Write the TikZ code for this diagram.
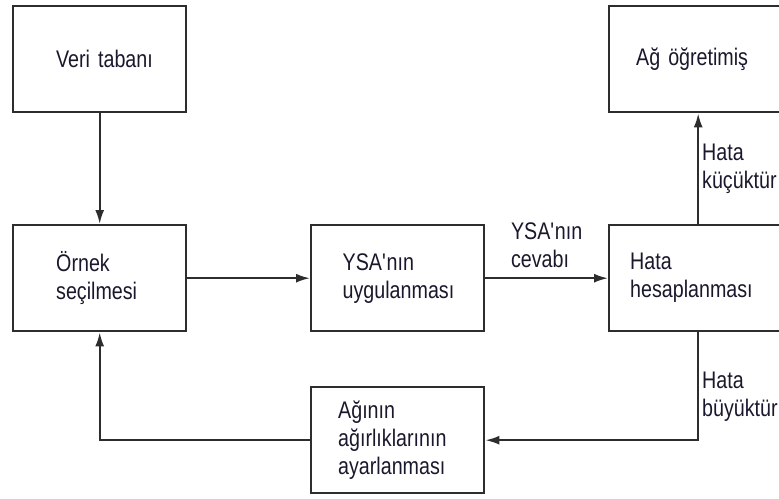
\documentclass[tikz,border=0pt]{standalone}
\usepackage{fontspec}
\setmainfont{Liberation Sans}[FakeStretch=0.82]
\usepackage{tikz}
\usetikzlibrary{positioning,arrows.meta,calc}
\definecolor{cizgi}{RGB}{45,45,45}
\definecolor{yazi}{RGB}{25,25,45}
\tikzset{
  blok/.style={draw=cizgi, line width=2.4pt, fill=white, minimum width=173pt, minimum height=106pt,
               anchor=north west, align=left, inner xsep=#1, text width=173pt-2*#1,
               font=\fontsize{24}{28}\selectfont, text=yazi},
  genis/.style={minimum width=178pt},
  ok/.style={-{Latex[length=14pt,width=9pt]}, line width=2pt, cizgi},
  etiket/.style={font=\fontsize{24}{28}\selectfont, text=yazi, align=left, inner sep=3pt}
}

\begin{document}
\begin{tikzpicture}[x=1pt, y=-1pt]
\useasboundingbox (0,0) rectangle (779,498);
% kutular
\node[blok=43pt] (veri) at (12,5) {\mbox{Veri tabanı}};
\node[blok=43pt] (ornek) at (12,224) {Örnek\\seçilmesi};
\node[blok=31.5pt] (ysa) at (310,224) {YSA\textquotesingle nın\\uygulanması};
\node[blok=18.5pt, genis] (hata) at (608,224) {Hata\\hesaplanması};
\node[blok=24.5pt, genis] (ag) at (608,5) {Ağ öğretimiş};
\node[blok=27pt] (agirlik) at (310,386) {Ağının\\ağırlıklarının\\ayarlanması};
% oklar
\draw[ok] (veri) -- (ornek);
\draw[ok] (ornek) -- (ysa);
\draw[ok] (ysa) -- node[etiket, above, yshift=6pt] (cevap) {YSA\textquotesingle nın\\cevabı} (hata);
\draw[ok] (hata) -- node[etiket, right] (kucuk) {Hata\\küçüktür} (ag);
\draw[ok] (hata.south) |- node[etiket, pos=0.3, right] (buyuk) {Hata\\büyüktür} (agirlik);
\draw[ok] (agirlik) -| (ornek);
\end{tikzpicture}
\end{document}
